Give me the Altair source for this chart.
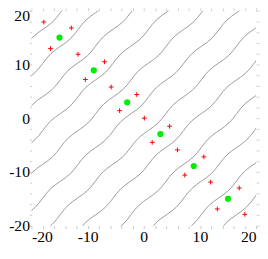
import altair as alt
import pandas as pd

# tick positions / labels
tick_values = [-20, -18, -16, -14, -12, -10, -8, -6, -4, -2, 0, 2, 4, 6, 8, 10, 12, 14, 16, 18, 20]

# contour lines: mean offset (y - x) of each line
line_offsets = [34.5, 28.2, 22.0, 15.7, 9.4, 3.1, -3.1, -9.4, -15.7, -22.0, -28.2, -34.5]
# wiggle profile along the lines: position (x + y) and offset of (y - x)
wiggle_s = [-48.6, -45.4, -42.3, -39.1, -36.0, -32.9, -29.7, -26.6, -23.4, -20.3, -17.2,
            -14.0, -10.9, -7.7, -4.6, -1.4, 1.7, 4.8, 8.0, 11.1, 14.3, 17.4, 20.6, 23.7,
            26.8, 30.0, 33.1, 36.3, 39.4, 42.6, 45.7]
wiggle_w = [-0.35, 0, 0.35, 0, -0.35, 0, 0.35, 0, -0.35, 0, 0.35, 0, -0.35, 0, 0.35, 0, -0.35, 0,
            0.35, 0, -0.35, 0, 0.35, 0, -0.35, 0, 0.35, 0, -0.35, 0, 0.35]

# red plus samples
plus_x = [-17.8, -12.9, -16.6, -11.7, -7.0, -10.4, -5.8, -1.25, -4.3, 0.1,
          4.6, 1.5, 6.0, 10.7, 7.3, 11.9, 17.0, 13.1, 18.0]
plus_y = [17.9, 16.8, 12.95, 11.9, 10.5, 7.2, 5.8, 4.4, 1.4, 0.0,
          -1.5, -4.5, -5.9, -7.2, -10.6, -11.9, -13.0, -16.9, -17.9]

# green centres
center_x = [-15.0, -8.9, -2.95, 2.95, 8.9, 15.0]
center_y = [15.0, 8.9, 2.95, -2.95, -8.9, -15.0]

rows = []
for li, b in enumerate(line_offsets):
    for k, (s, w) in enumerate(zip(wiggle_s, wiggle_w)):
        d = b + w
        rows.append({"line": li, "k": k, "x": (s - d) / 2, "y": (s + d) / 2})
lines_df = pd.DataFrame(rows)
plus_df = pd.DataFrame({"x": plus_x, "y": plus_y})
center_df = pd.DataFrame({"x": center_x, "y": center_y})

FONT = "Liberation Serif, Times New Roman, serif"
label_expr = "datum.value % 10 == 0 ? '' + datum.value : ''"
xscale = alt.Scale(domain=[-20, 20], nice=False, zero=False)
yscale = alt.Scale(domain=[-20, 20], nice=False, zero=False)

x_axis = alt.Axis(values=tick_values, labelExpr=label_expr, orient="bottom", title=None,
                  domain=False, grid=False, tickColor="#c8c8c8", tickSize=3, tickWidth=1,
                  labelFont=FONT, labelFontSize=16, labelColor="black", labelPadding=0,
                  labelOverlap=False)
y_axis = alt.Axis(values=tick_values, labelExpr=label_expr, orient="left", title=None,
                  domain=False, grid=False, tickColor="#c8c8c8", tickSize=2, tickWidth=1,
                  labelFont=FONT, labelFontSize=16, labelColor="black", labelPadding=0,
                  labelOverlap=False,
                  labelOffset=alt.ConditionalAxisNumber(condition={"test": "datum.value == 20", "value": 5}, value=0))
x_top = alt.Axis(values=tick_values, labels=False, orient="top", title=None, domain=False,
                 grid=False, tickColor="#d0d0d0", tickSize=3)
y_right = alt.Axis(values=tick_values, labels=False, orient="right", title=None, domain=False,
                   grid=False, tickColor="#d0d0d0", tickSize=3)

lines = alt.Chart(lines_df).mark_line(clip=True, color="#9a9a9a", strokeWidth=1,
                                      interpolate="natural").encode(
    x=alt.X("x:Q", scale=xscale, axis=x_axis),
    y=alt.Y("y:Q", scale=yscale, axis=y_axis),
    detail="line:N",
    order="k:Q",
)

pluses = alt.Chart(plus_df).mark_point(shape="M-1,0L1,0M0,-1L0,1", filled=False, color="red",
                                       strokeWidth=1, size=24, opacity=1).encode(
    x=alt.X("x:Q", scale=xscale, axis=x_top),
    y=alt.Y("y:Q", scale=yscale, axis=y_right),
)

centers = alt.Chart(center_df).mark_circle(color="#00ee00", size=40, opacity=1).encode(
    x=alt.X("x:Q", scale=xscale, axis=None),
    y=alt.Y("y:Q", scale=yscale, axis=None),
)

chart = alt.layer(lines, pluses, centers).resolve_axis(x="independent", y="independent").properties(
    width=230, height=220,
    autosize=alt.AutoSizeParams(type="none"),
    padding={"left": 24, "top": 0, "right": 4, "bottom": 16},
).configure_view(stroke=None)

chart.save("out.html", embed_options={"renderer": "svg", "actions": False})
